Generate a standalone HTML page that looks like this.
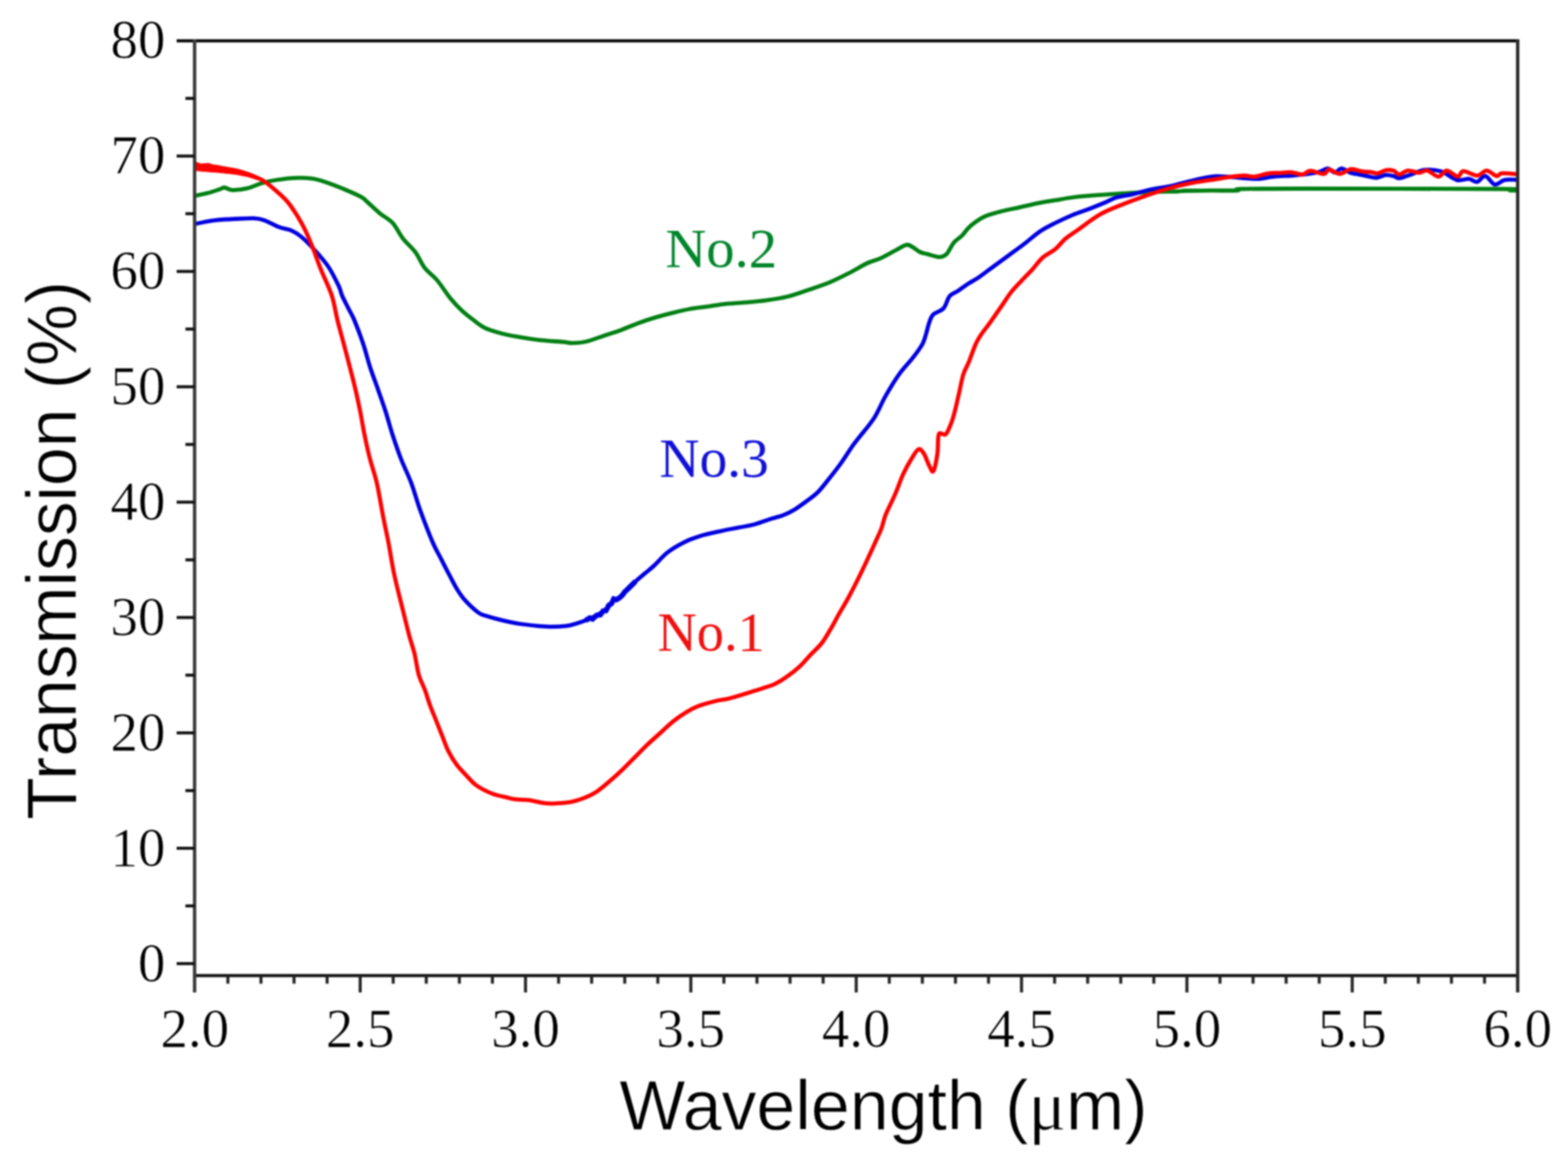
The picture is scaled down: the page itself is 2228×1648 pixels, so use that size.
<!DOCTYPE html>
<html><head><meta charset="utf-8"><title>Transmission spectra</title>
<style>html,body{margin:0;padding:0;background:#fff;}svg{display:block;filter:blur(0.8px);}.tk{font-family:"Liberation Serif","Times New Roman",serif;font-size:78px;fill:#000;stroke:#fff;stroke-width:0.7px;}.ax{font-family:"Liberation Sans",Arial,sans-serif;font-size:101px;fill:#000;stroke:#fff;stroke-width:0.9px;}.lb{font-family:"Liberation Serif","Times New Roman",serif;font-size:78px;}</style></head><body>
<svg width="2228" height="1648" viewBox="0 0 2228 1648">
<rect width="2228" height="1648" fill="#fff"/>
<defs><clipPath id="pc"><rect x="276.5" y="58.0" width="1880.0" height="1328.0"/></clipPath></defs>
<g clip-path="url(#pc)">
<g fill="none" stroke-linejoin="round" stroke-linecap="round" stroke-width="5.8">
<path stroke="#007f12" d="M276.5,278.3 C280.0,277.5 291.4,275.2 297.3,273.7 C303.2,272.1 308.4,270.2 312.0,269.0 C315.6,267.8 316.2,266.3 319.2,266.5 C322.2,266.7 324.7,270.0 330.1,270.1 C335.6,270.2 344.9,269.1 351.9,267.4 C358.9,265.7 365.0,262.1 372.0,260.1 C379.0,258.1 385.9,256.7 393.8,255.5 C401.7,254.3 411.1,253.1 419.3,252.8 C427.5,252.5 436.0,252.8 443.0,253.7 C450.0,254.6 453.4,255.7 461.2,258.3 C469.0,260.9 481.3,265.6 490.0,269.2 C498.7,272.8 508.3,277.0 513.6,280.0 C518.9,283.0 517.7,283.2 522.0,287.0 C526.3,290.8 533.5,298.0 539.5,302.9 C545.5,307.8 552.2,310.6 557.7,316.5 C563.2,322.4 566.8,331.4 572.2,338.4 C577.7,345.4 585.2,351.4 590.4,358.4 C595.6,365.4 598.0,373.5 603.2,380.2 C608.4,386.9 615.3,391.2 621.4,398.5 C627.5,405.8 634.2,416.7 640.0,423.8 C645.8,430.9 650.8,436.0 656.2,441.1 C661.6,446.2 666.9,450.2 672.3,454.3 C677.7,458.4 681.8,462.4 688.5,465.6 C695.2,468.8 704.6,471.5 712.7,473.7 C720.8,475.9 727.5,477.0 736.9,478.6 C746.3,480.2 758.5,482.2 769.3,483.4 C780.1,484.6 794.3,485.1 801.6,485.8 C808.9,486.5 807.5,487.5 812.9,487.4 C818.3,487.3 826.4,486.8 833.9,485.0 C841.4,483.2 850.0,479.6 858.1,476.9 C866.2,474.2 874.3,471.8 882.4,468.9 C890.5,465.9 898.5,462.2 906.6,459.2 C914.7,456.2 922.7,453.5 930.8,451.1 C938.9,448.7 946.9,446.6 955.1,444.6 C963.3,442.6 971.8,440.5 980.0,439.0 C988.2,437.5 996.1,436.8 1004.2,435.7 C1012.3,434.6 1019.4,433.1 1028.5,432.1 C1037.6,431.1 1048.7,430.6 1058.8,429.7 C1068.9,428.8 1079.0,428.0 1089.1,426.6 C1099.2,425.2 1109.3,423.7 1119.4,421.2 C1129.5,418.7 1139.6,414.9 1149.7,411.5 C1159.8,408.1 1169.9,404.9 1180.0,400.6 C1190.1,396.4 1201.5,390.4 1210.2,386.0 C1218.9,381.6 1225.1,377.2 1232.0,374.0 C1238.9,370.8 1244.8,369.9 1251.8,366.7 C1258.8,363.5 1267.6,358.1 1273.7,355.0 C1279.8,351.9 1284.1,348.3 1288.2,347.8 C1292.3,347.3 1295.2,350.4 1298.4,352.1 C1301.6,353.8 1304.0,356.5 1307.2,358.0 C1310.4,359.5 1312.8,359.7 1317.4,360.9 C1322.0,362.1 1330.3,365.2 1334.9,365.2 C1339.5,365.2 1341.6,364.3 1345.0,360.9 C1348.4,357.5 1351.5,349.2 1355.2,344.8 C1358.9,340.4 1363.0,338.6 1366.9,334.7 C1370.8,330.8 1373.4,325.9 1378.5,321.5 C1383.6,317.1 1390.7,311.8 1397.5,308.4 C1404.3,305.0 1410.8,303.5 1419.3,301.2 C1427.8,298.9 1438.7,296.8 1448.4,294.6 C1458.1,292.4 1469.0,289.8 1477.6,288.1 C1486.2,286.4 1492.3,285.7 1500.0,284.4 C1507.7,283.1 1515.8,281.6 1523.6,280.5 C1531.4,279.4 1537.9,278.9 1547.1,278.1 C1556.2,277.3 1568.0,276.5 1578.5,275.8 C1589.0,275.1 1599.5,274.6 1610.0,274.0 C1620.5,273.4 1630.9,272.8 1641.4,272.5 C1651.9,272.2 1665.5,272.2 1672.8,272.0 C1680.1,271.8 1677.2,271.2 1685.0,271.0 C1692.8,270.8 1707.7,270.8 1719.9,270.7 C1732.1,270.6 1750.8,271.0 1758.0,270.6 C1765.2,270.2 1747.7,268.9 1763.0,268.5 C1778.3,268.1 1788.0,268.0 1850.0,268.0 C1912.0,268.0 2085.8,268.1 2135.0,268.5 C2184.2,268.9 2141.2,269.9 2145.0,270.3 C2148.8,270.7 2155.8,270.6 2158.0,270.6"/>
<path stroke="#0000e0" d="M276.5,318.3 C278.8,317.8 285.0,316.4 290.0,315.5 C295.0,314.6 299.1,313.6 306.4,312.9 C313.7,312.1 324.6,311.4 333.7,311.0 C342.8,310.6 354.0,309.9 361.0,310.2 C368.0,310.5 369.5,310.8 375.6,312.9 C381.7,315.0 391.0,320.5 397.4,322.9 C403.8,325.3 408.6,325.1 413.8,327.4 C419.0,329.7 422.6,331.7 428.4,336.6 C434.2,341.5 442.0,349.5 448.4,356.6 C454.8,363.7 461.1,370.8 466.6,379.0 C472.1,387.2 477.9,399.2 481.2,406.0 C484.4,412.8 483.8,414.7 486.1,420.0 C488.4,425.3 492.2,432.3 495.0,438.0 C497.8,443.7 499.6,445.7 503.1,454.0 C506.6,462.3 512.1,476.7 515.9,488.0 C519.7,499.3 522.5,511.2 526.0,522.0 C529.5,532.8 533.4,542.7 537.0,553.0 C540.6,563.3 544.2,573.2 547.7,584.0 C551.2,594.8 554.2,606.7 557.9,618.0 C561.6,629.3 565.4,640.7 569.8,652.0 C574.2,663.3 579.7,673.7 584.3,686.0 C588.9,698.3 592.3,711.8 597.4,725.8 C602.5,739.8 609.9,759.0 614.6,770.0 C619.3,781.0 621.7,784.0 625.6,791.8 C629.5,799.5 634.2,808.8 638.3,816.5 C642.4,824.2 646.2,831.9 650.0,838.0 C653.8,844.1 656.1,847.7 661.0,853.0 C665.9,858.3 674.5,866.4 679.3,870.0 C684.1,873.6 684.4,872.9 690.0,874.8 C695.6,876.6 704.6,879.1 713.0,881.1 C721.4,883.1 729.7,885.0 740.3,886.5 C750.9,888.0 766.1,889.7 776.7,890.2 C787.3,890.7 796.8,890.1 804.0,889.3 C811.2,888.5 814.8,887.0 820.0,885.5 C825.2,884.0 830.2,882.2 835.2,880.1 C840.2,878.0 845.8,875.4 850.3,872.8 C854.8,870.2 859.0,867.5 862.5,864.3 C866.0,861.1 868.6,856.0 871.6,853.4 C874.6,850.8 877.2,851.5 880.7,848.5 C884.2,845.5 888.8,839.2 892.8,835.2 C896.8,831.2 901.0,827.8 905.0,824.3 C909.0,820.8 913.0,817.5 917.1,814.0 C921.2,810.5 924.1,808.5 929.5,803.5 C934.9,798.5 941.8,789.9 949.2,784.3 C956.6,778.6 966.1,773.4 973.7,769.6 C981.3,765.8 986.8,763.9 995.0,761.4 C1003.2,758.9 1014.1,756.7 1022.9,754.8 C1031.7,752.9 1039.3,751.5 1047.5,749.9 C1055.7,748.3 1063.8,747.2 1072.0,745.0 C1080.2,742.8 1089.8,739.0 1096.6,736.8 C1103.4,734.6 1107.5,734.1 1113.0,731.9 C1118.5,729.7 1123.9,727.0 1129.4,723.7 C1134.9,720.4 1140.3,716.3 1145.8,712.2 C1151.3,708.1 1156.7,704.6 1162.2,699.1 C1167.7,693.6 1173.1,686.2 1178.6,679.4 C1184.0,672.6 1189.5,665.7 1194.9,658.1 C1200.4,650.5 1207.0,639.8 1211.3,633.6 C1215.6,627.4 1215.9,627.6 1221.0,621.0 C1226.1,614.4 1235.8,603.7 1242.0,594.0 C1248.2,584.3 1252.3,573.0 1258.3,562.6 C1264.2,552.2 1271.2,540.6 1277.7,531.6 C1284.2,522.6 1291.6,515.4 1297.1,508.3 C1302.6,501.2 1307.5,494.5 1310.7,488.8 C1313.9,483.1 1314.4,479.1 1316.0,474.0 C1317.6,468.9 1318.6,462.9 1320.3,458.4 C1322.0,453.9 1322.7,450.2 1326.1,446.8 C1329.5,443.4 1336.8,442.4 1340.7,438.0 C1344.6,433.6 1346.0,424.7 1349.4,420.6 C1352.8,416.5 1356.7,416.2 1361.1,413.3 C1365.5,410.4 1370.8,406.2 1375.6,403.1 C1380.4,400.0 1384.1,398.5 1390.2,394.4 C1396.3,390.3 1404.7,383.6 1412.0,378.3 C1419.3,373.0 1426.6,367.6 1433.9,362.3 C1441.2,357.0 1448.4,351.9 1455.7,346.3 C1463.0,340.7 1470.2,333.8 1477.6,328.8 C1485.0,323.8 1492.3,320.4 1500.0,316.5 C1507.7,312.6 1515.8,308.9 1523.6,305.6 C1531.4,302.4 1539.2,300.0 1547.1,297.0 C1554.9,294.0 1564.2,290.2 1570.7,287.5 C1577.2,284.8 1579.9,282.4 1586.4,280.5 C1593.0,278.6 1602.2,277.6 1610.0,275.8 C1617.8,274.0 1624.3,271.5 1633.5,269.5 C1642.7,267.5 1654.4,266.2 1664.9,264.0 C1675.4,261.8 1685.9,258.4 1696.4,256.1 C1706.9,253.8 1716.0,250.9 1727.8,250.4 C1739.6,249.9 1756.6,252.4 1767.0,253.0 C1777.4,253.6 1783.5,254.3 1790.0,254.0 C1796.5,253.7 1801.3,252.0 1806.3,251.4 C1811.3,250.8 1815.2,250.5 1820.0,250.2 C1824.8,249.9 1828.3,250.0 1835.0,249.5 C1841.7,249.0 1853.3,247.9 1860.0,247.0 C1866.7,246.1 1870.6,245.2 1875.0,244.0 C1879.4,242.8 1882.7,239.3 1886.4,239.5 C1890.1,239.7 1893.7,245.0 1897.0,245.0 C1900.3,245.0 1902.6,239.4 1906.3,239.5 C1910.0,239.6 1915.1,244.2 1919.2,245.6 C1923.3,247.0 1926.9,247.1 1930.7,247.9 C1934.5,248.7 1937.8,249.4 1942.0,250.2 C1946.2,251.0 1951.4,252.8 1955.9,252.5 C1960.4,252.2 1964.8,249.1 1968.9,248.7 C1973.0,248.3 1977.1,249.4 1980.3,250.2 C1983.5,250.9 1984.6,253.3 1988.0,253.2 C1991.4,253.1 1994.7,251.3 2000.7,249.4 C2006.8,247.5 2016.5,242.5 2024.3,241.5 C2032.1,240.5 2040.2,241.2 2047.8,243.5 C2055.4,245.8 2063.2,253.8 2069.8,255.6 C2076.4,257.4 2082.2,253.6 2087.1,254.1 C2091.9,254.6 2095.0,259.0 2098.9,258.3 C2102.8,257.6 2106.5,249.4 2110.7,250.1 C2114.9,250.8 2119.4,261.3 2124.0,262.2 C2128.6,263.1 2132.5,256.7 2138.2,255.6 C2143.9,254.5 2154.7,255.6 2158.0,255.6"/>
<path stroke="#ff0000" d="M276.5,232.0 C276.9,232.8 278.1,236.7 279.0,237.0 C279.9,237.3 280.8,233.8 282.0,234.0 C283.2,234.2 284.8,237.8 286.0,238.0 C287.2,238.2 288.0,234.9 289.0,235.0 C290.0,235.1 290.9,238.2 292.0,238.5 C293.1,238.8 294.3,236.3 295.5,236.5 C296.7,236.7 297.8,239.3 299.0,239.5 C300.2,239.7 301.7,237.3 303.0,237.5 C304.3,237.7 305.7,240.3 307.0,240.5 C308.3,240.7 309.7,238.3 311.0,238.5 C312.3,238.7 313.7,241.3 315.0,241.5 C316.3,241.7 317.4,239.4 319.0,239.5 C320.6,239.6 322.8,241.4 324.6,241.9 C326.4,242.4 327.8,242.1 330.0,242.5 C332.2,242.9 334.4,243.6 338.0,244.5 C341.6,245.4 346.2,246.4 351.9,248.2 C357.6,250.0 365.6,252.0 372.0,255.5 C378.4,259.0 384.1,264.0 390.2,269.2 C396.3,274.4 402.9,280.1 408.4,286.5 C413.8,292.9 418.6,300.6 422.9,307.4 C427.1,314.2 430.2,319.8 433.9,327.4 C437.5,335.0 441.2,343.8 444.8,352.9 C448.4,362.0 451.2,370.9 455.7,382.1 C460.1,393.3 467.6,408.0 471.5,420.0 C475.4,432.0 476.5,442.7 479.3,454.0 C482.1,465.3 485.3,476.7 488.3,488.0 C491.3,499.3 494.4,511.2 497.2,522.0 C500.0,532.8 502.6,542.7 505.0,553.0 C507.4,563.3 509.5,573.2 511.7,584.0 C513.9,594.8 515.7,606.7 518.0,618.0 C520.3,629.3 522.8,640.7 525.7,652.0 C528.6,663.3 532.2,672.2 535.4,686.0 C538.5,699.8 541.9,720.9 544.6,734.9 C547.3,748.9 549.2,756.6 551.8,770.0 C554.4,783.4 556.8,800.3 560.0,815.5 C563.2,830.7 567.4,846.4 571.0,861.0 C574.6,875.6 578.5,891.6 581.5,903.0 C584.5,914.4 586.9,919.9 589.1,929.1 C591.3,938.3 592.5,949.7 594.9,958.2 C597.3,966.7 601.0,972.8 603.7,980.1 C606.4,987.4 608.3,994.6 611.0,1001.9 C613.7,1009.2 616.8,1016.4 619.7,1023.7 C622.6,1031.0 625.5,1038.3 628.4,1045.6 C631.3,1052.9 633.8,1060.6 637.2,1067.4 C640.6,1074.2 644.7,1080.7 648.8,1086.3 C652.9,1091.9 657.3,1096.0 661.9,1100.9 C666.5,1105.8 670.4,1111.1 676.5,1115.5 C682.6,1119.9 691.0,1124.2 698.3,1127.1 C705.5,1130.0 714.2,1131.5 720.0,1132.9 C725.8,1134.3 727.7,1135.1 732.9,1135.7 C738.1,1136.3 744.1,1135.7 751.1,1136.6 C758.1,1137.5 767.8,1140.4 774.8,1141.2 C781.8,1142.0 786.9,1141.5 793.0,1141.2 C799.1,1140.9 805.1,1140.6 811.2,1139.4 C817.3,1138.2 823.3,1136.3 829.4,1133.9 C835.5,1131.5 841.5,1128.8 847.6,1124.8 C853.7,1120.8 859.7,1115.4 865.8,1110.2 C871.9,1105.0 877.9,1099.6 884.0,1093.8 C890.1,1088.0 896.1,1081.7 902.2,1075.6 C908.3,1069.5 914.3,1063.2 920.4,1057.4 C926.5,1051.6 932.5,1046.5 938.6,1041.0 C944.7,1035.5 950.7,1029.4 956.8,1024.6 C962.9,1019.7 968.9,1015.5 975.0,1011.9 C981.1,1008.3 985.9,1005.5 993.2,1002.8 C1000.5,1000.1 1011.5,997.3 1018.7,995.5 C1025.9,993.7 1027.4,994.6 1036.4,992.2 C1045.4,989.8 1062.2,984.6 1072.8,981.2 C1083.4,977.9 1092.5,975.4 1100.1,972.1 C1107.7,968.8 1112.2,965.5 1118.3,961.2 C1124.4,957.0 1131.1,951.7 1136.6,946.6 C1142.1,941.5 1146.3,936.0 1151.5,930.5 C1156.7,925.0 1162.7,920.0 1167.5,913.9 C1172.3,907.8 1176.2,900.5 1180.2,893.8 C1184.2,887.1 1187.1,881.1 1191.2,873.8 C1195.3,866.5 1200.4,858.5 1205.0,850.0 C1209.6,841.5 1214.6,831.8 1219.0,823.0 C1223.4,814.2 1227.5,805.5 1231.5,797.0 C1235.5,788.5 1239.5,779.8 1243.0,772.0 C1246.5,764.2 1250.2,756.7 1252.7,750.0 C1255.2,743.3 1255.1,739.5 1258.3,731.6 C1261.5,723.7 1267.6,712.1 1271.8,702.4 C1276.0,692.7 1279.6,681.7 1283.5,673.3 C1287.4,664.9 1291.5,657.7 1295.1,651.9 C1298.7,646.1 1302.0,639.6 1304.9,638.3 C1307.8,637.0 1310.0,640.3 1312.6,644.2 C1315.2,648.1 1318.1,657.5 1320.4,661.7 C1322.7,665.9 1324.3,672.3 1326.2,669.4 C1328.1,666.5 1330.7,652.9 1332.0,644.2 C1333.3,635.5 1332.0,621.5 1334.0,617.0 C1336.0,612.5 1340.8,619.6 1343.7,617.0 C1346.6,614.4 1349.2,607.3 1351.5,601.5 C1353.8,595.7 1355.4,589.5 1357.3,582.0 C1359.2,574.5 1361.2,565.2 1363.1,556.8 C1365.0,548.4 1366.6,538.7 1368.9,531.6 C1371.2,524.5 1373.8,521.2 1376.7,514.1 C1379.6,507.0 1383.4,495.5 1386.4,488.8 C1389.5,482.1 1391.6,479.1 1395.0,474.0 C1398.4,468.9 1402.2,464.8 1407.0,458.0 C1411.8,451.2 1418.9,440.8 1424.0,433.5 C1429.1,426.2 1432.7,420.0 1437.5,414.0 C1442.3,408.0 1448.1,402.5 1453.0,397.3 C1457.9,392.1 1462.3,387.8 1467.0,382.7 C1471.7,377.6 1475.5,371.4 1481.0,366.5 C1486.5,361.6 1494.5,358.1 1500.0,353.5 C1505.5,348.9 1508.8,343.4 1514.0,339.0 C1519.2,334.6 1522.9,332.7 1531.0,327.0 C1539.1,321.3 1552.2,310.9 1562.8,304.8 C1573.3,298.8 1583.8,295.0 1594.3,290.7 C1604.8,286.4 1615.2,282.6 1625.7,278.9 C1636.2,275.2 1646.6,271.7 1657.1,268.7 C1667.6,265.7 1676.7,263.2 1688.5,260.8 C1700.3,258.4 1718.4,256.1 1727.8,254.6 C1737.2,253.1 1738.5,252.7 1745.0,251.8 C1751.5,251.0 1760.7,249.6 1767.0,249.5 C1773.3,249.4 1777.7,251.4 1782.8,251.0 C1787.9,250.6 1793.8,248.2 1797.7,247.3 C1801.6,246.5 1802.6,246.2 1806.3,245.9 C1810.0,245.6 1815.2,245.8 1820.0,245.6 C1824.8,245.4 1830.2,244.4 1835.3,244.8 C1840.4,245.2 1846.0,248.3 1850.5,247.9 C1855.0,247.5 1856.9,242.7 1862.0,242.6 C1867.1,242.5 1876.5,247.4 1881.0,247.1 C1885.5,246.8 1884.9,241.0 1888.7,241.0 C1892.5,241.0 1898.9,247.2 1904.0,247.1 C1909.1,247.0 1914.1,240.9 1919.2,240.3 C1924.3,239.7 1929.4,242.6 1934.5,243.3 C1939.6,244.1 1946.0,244.3 1949.8,244.8 C1953.6,245.3 1954.2,246.9 1957.4,246.4 C1960.6,245.9 1965.2,242.4 1969.0,241.8 C1972.8,241.2 1977.1,241.6 1980.3,242.6 C1983.5,243.6 1984.6,247.9 1988.0,247.9 C1991.4,247.9 1996.0,242.7 2000.7,242.3 C2005.4,241.9 2011.8,245.4 2016.4,245.4 C2021.0,245.4 2023.6,241.4 2028.2,242.3 C2032.8,243.2 2039.3,250.9 2043.9,250.9 C2048.5,250.9 2051.1,242.3 2055.7,242.3 C2060.3,242.3 2067.5,250.8 2071.4,250.9 C2075.3,251.0 2074.7,243.3 2079.3,243.1 C2083.9,242.8 2093.4,249.5 2098.9,249.4 C2104.4,249.3 2107.7,242.2 2112.3,242.3 C2116.9,242.4 2122.7,249.4 2126.4,250.1 C2130.1,250.8 2129.0,246.6 2134.3,246.2 C2139.6,245.8 2154.1,247.5 2158.0,247.8"/>
</g>
<path fill="none" stroke="#0000e0" stroke-width="7.5" stroke-linejoin="miter" d="M832.0,881.5 L838.0,878.0 L842.0,879.5 L848.0,874.0 L853.0,873.5 L857.0,868.0 L861.0,867.5 L865.0,860.0 L869.0,857.5 L872.0,851.0 L876.0,852.0 L880.0,849.5 L884.0,846.0 L888.0,840.5 L893.0,836.0 L898.0,831.0 L903.0,826.0"/>
<path fill="#ff0000" stroke="#ff0000" stroke-width="1" stroke-linejoin="round" d="M276.5,228.0 L280.0,231.0 L285.0,233.0 L291.0,232.5 L296.0,232.0 L302.0,234.0 L310.0,235.0 L319.0,237.0 L329.0,238.5 L337.0,240.0 L344.0,242.0 L352.0,244.5 L360.0,247.5 L366.0,250.5 L366.0,255.5 L360.0,253.5 L352.0,251.0 L344.0,249.5 L337.0,248.0 L329.0,247.0 L319.0,246.0 L310.0,245.0 L302.0,244.5 L296.0,244.0 L290.0,243.5 L284.0,243.0 L279.0,242.5 L276.5,242.0 Z"/>
</g>
<g stroke-linecap="butt" fill="none">
<line x1="251.0" y1="58.0" x2="2158.7" y2="58.0" stroke="#0a0a0a" stroke-width="4.5"/>
<line x1="276.5" y1="1386.0" x2="2156.5" y2="1386.0" stroke="#141414" stroke-width="4.5"/>
<line x1="276.5" y1="56.0" x2="276.5" y2="1410.0" stroke="#3a3a3a" stroke-width="4.8"/>
<line x1="2156.5" y1="56.0" x2="2156.5" y2="1410.0" stroke="#2a2a2a" stroke-width="4.8"/>
<line x1="251.0" y1="1369.0" x2="276.5" y2="1369.0" stroke="#111" stroke-width="4.3"/>
<line x1="263.5" y1="1287.0" x2="276.5" y2="1287.0" stroke="#111" stroke-width="4.3"/>
<line x1="251.0" y1="1205.1" x2="276.5" y2="1205.1" stroke="#111" stroke-width="4.3"/>
<line x1="263.5" y1="1123.2" x2="276.5" y2="1123.2" stroke="#111" stroke-width="4.3"/>
<line x1="251.0" y1="1041.2" x2="276.5" y2="1041.2" stroke="#111" stroke-width="4.3"/>
<line x1="263.5" y1="959.2" x2="276.5" y2="959.2" stroke="#111" stroke-width="4.3"/>
<line x1="251.0" y1="877.3" x2="276.5" y2="877.3" stroke="#111" stroke-width="4.3"/>
<line x1="263.5" y1="795.4" x2="276.5" y2="795.4" stroke="#111" stroke-width="4.3"/>
<line x1="251.0" y1="713.4" x2="276.5" y2="713.4" stroke="#111" stroke-width="4.3"/>
<line x1="263.5" y1="631.4" x2="276.5" y2="631.4" stroke="#111" stroke-width="4.3"/>
<line x1="251.0" y1="549.5" x2="276.5" y2="549.5" stroke="#111" stroke-width="4.3"/>
<line x1="263.5" y1="467.5" x2="276.5" y2="467.5" stroke="#111" stroke-width="4.3"/>
<line x1="251.0" y1="385.6" x2="276.5" y2="385.6" stroke="#111" stroke-width="4.3"/>
<line x1="263.5" y1="303.6" x2="276.5" y2="303.6" stroke="#111" stroke-width="4.3"/>
<line x1="251.0" y1="221.7" x2="276.5" y2="221.7" stroke="#111" stroke-width="4.3"/>
<line x1="263.5" y1="139.8" x2="276.5" y2="139.8" stroke="#111" stroke-width="4.3"/>
<line x1="323.8" y1="1386.0" x2="323.8" y2="1397.5" stroke="#222" stroke-width="4.3"/>
<line x1="370.8" y1="1386.0" x2="370.8" y2="1397.5" stroke="#222" stroke-width="4.3"/>
<line x1="417.8" y1="1386.0" x2="417.8" y2="1397.5" stroke="#222" stroke-width="4.3"/>
<line x1="464.8" y1="1386.0" x2="464.8" y2="1397.5" stroke="#222" stroke-width="4.3"/>
<line x1="511.8" y1="1386.0" x2="511.8" y2="1410.0" stroke="#222" stroke-width="4.3"/>
<line x1="558.7" y1="1386.0" x2="558.7" y2="1397.5" stroke="#222" stroke-width="4.3"/>
<line x1="605.7" y1="1386.0" x2="605.7" y2="1397.5" stroke="#222" stroke-width="4.3"/>
<line x1="652.7" y1="1386.0" x2="652.7" y2="1397.5" stroke="#222" stroke-width="4.3"/>
<line x1="699.7" y1="1386.0" x2="699.7" y2="1397.5" stroke="#222" stroke-width="4.3"/>
<line x1="746.7" y1="1386.0" x2="746.7" y2="1410.0" stroke="#222" stroke-width="4.3"/>
<line x1="793.7" y1="1386.0" x2="793.7" y2="1397.5" stroke="#222" stroke-width="4.3"/>
<line x1="840.7" y1="1386.0" x2="840.7" y2="1397.5" stroke="#222" stroke-width="4.3"/>
<line x1="887.7" y1="1386.0" x2="887.7" y2="1397.5" stroke="#222" stroke-width="4.3"/>
<line x1="934.7" y1="1386.0" x2="934.7" y2="1397.5" stroke="#222" stroke-width="4.3"/>
<line x1="981.6" y1="1386.0" x2="981.6" y2="1410.0" stroke="#222" stroke-width="4.3"/>
<line x1="1028.6" y1="1386.0" x2="1028.6" y2="1397.5" stroke="#222" stroke-width="4.3"/>
<line x1="1075.6" y1="1386.0" x2="1075.6" y2="1397.5" stroke="#222" stroke-width="4.3"/>
<line x1="1122.6" y1="1386.0" x2="1122.6" y2="1397.5" stroke="#222" stroke-width="4.3"/>
<line x1="1169.6" y1="1386.0" x2="1169.6" y2="1397.5" stroke="#222" stroke-width="4.3"/>
<line x1="1216.6" y1="1386.0" x2="1216.6" y2="1410.0" stroke="#222" stroke-width="4.3"/>
<line x1="1263.6" y1="1386.0" x2="1263.6" y2="1397.5" stroke="#222" stroke-width="4.3"/>
<line x1="1310.6" y1="1386.0" x2="1310.6" y2="1397.5" stroke="#222" stroke-width="4.3"/>
<line x1="1357.6" y1="1386.0" x2="1357.6" y2="1397.5" stroke="#222" stroke-width="4.3"/>
<line x1="1404.6" y1="1386.0" x2="1404.6" y2="1397.5" stroke="#222" stroke-width="4.3"/>
<line x1="1451.5" y1="1386.0" x2="1451.5" y2="1410.0" stroke="#222" stroke-width="4.3"/>
<line x1="1498.5" y1="1386.0" x2="1498.5" y2="1397.5" stroke="#222" stroke-width="4.3"/>
<line x1="1545.5" y1="1386.0" x2="1545.5" y2="1397.5" stroke="#222" stroke-width="4.3"/>
<line x1="1592.5" y1="1386.0" x2="1592.5" y2="1397.5" stroke="#222" stroke-width="4.3"/>
<line x1="1639.5" y1="1386.0" x2="1639.5" y2="1397.5" stroke="#222" stroke-width="4.3"/>
<line x1="1686.5" y1="1386.0" x2="1686.5" y2="1410.0" stroke="#222" stroke-width="4.3"/>
<line x1="1733.5" y1="1386.0" x2="1733.5" y2="1397.5" stroke="#222" stroke-width="4.3"/>
<line x1="1780.5" y1="1386.0" x2="1780.5" y2="1397.5" stroke="#222" stroke-width="4.3"/>
<line x1="1827.5" y1="1386.0" x2="1827.5" y2="1397.5" stroke="#222" stroke-width="4.3"/>
<line x1="1874.5" y1="1386.0" x2="1874.5" y2="1397.5" stroke="#222" stroke-width="4.3"/>
<line x1="1921.4" y1="1386.0" x2="1921.4" y2="1410.0" stroke="#222" stroke-width="4.3"/>
<line x1="1968.4" y1="1386.0" x2="1968.4" y2="1397.5" stroke="#222" stroke-width="4.3"/>
<line x1="2015.4" y1="1386.0" x2="2015.4" y2="1397.5" stroke="#222" stroke-width="4.3"/>
<line x1="2062.4" y1="1386.0" x2="2062.4" y2="1397.5" stroke="#222" stroke-width="4.3"/>
<line x1="2109.4" y1="1386.0" x2="2109.4" y2="1397.5" stroke="#222" stroke-width="4.3"/>
</g>
<text class="tk" x="235" y="1393.5" text-anchor="end">0</text>
<text class="tk" x="235" y="1229.6" text-anchor="end">10</text>
<text class="tk" x="235" y="1065.7" text-anchor="end">20</text>
<text class="tk" x="235" y="901.8" text-anchor="end">30</text>
<text class="tk" x="235" y="737.9" text-anchor="end">40</text>
<text class="tk" x="235" y="574.0" text-anchor="end">50</text>
<text class="tk" x="235" y="410.1" text-anchor="end">60</text>
<text class="tk" x="235" y="246.2" text-anchor="end">70</text>
<text class="tk" x="235" y="82.3" text-anchor="end">80</text>
<text class="tk" x="276.8" y="1486.5" text-anchor="middle">2.0</text>
<text class="tk" x="511.8" y="1486.5" text-anchor="middle">2.5</text>
<text class="tk" x="746.7" y="1486.5" text-anchor="middle">3.0</text>
<text class="tk" x="981.6" y="1486.5" text-anchor="middle">3.5</text>
<text class="tk" x="1216.6" y="1486.5" text-anchor="middle">4.0</text>
<text class="tk" x="1451.5" y="1486.5" text-anchor="middle">4.5</text>
<text class="tk" x="1686.5" y="1486.5" text-anchor="middle">5.0</text>
<text class="tk" x="1921.4" y="1486.5" text-anchor="middle">5.5</text>
<text class="tk" x="2156.4" y="1486.5" text-anchor="middle">6.0</text>
<text class="ax" x="879.9" y="1604.5" textLength="750.6" lengthAdjust="spacingAndGlyphs">Wavelength (<tspan style="font-family:'Liberation Serif',serif">μ</tspan>m)</text>
<text class="ax" transform="translate(108.3,1164.8) rotate(-90)" x="0" y="0" textLength="765.7" lengthAdjust="spacingAndGlyphs">Transmission (%)</text>
<text class="lb" x="945.5" y="379" textLength="158.7" lengthAdjust="spacingAndGlyphs" fill="#00852a">No.2</text>
<text class="lb" x="937.0" y="676.5" textLength="155.5" lengthAdjust="spacingAndGlyphs" fill="#1010d8">No.3</text>
<text class="lb" x="934.2" y="924.3" textLength="152.5" lengthAdjust="spacingAndGlyphs" fill="#f01010">No.1</text>
</svg>
</body></html>
